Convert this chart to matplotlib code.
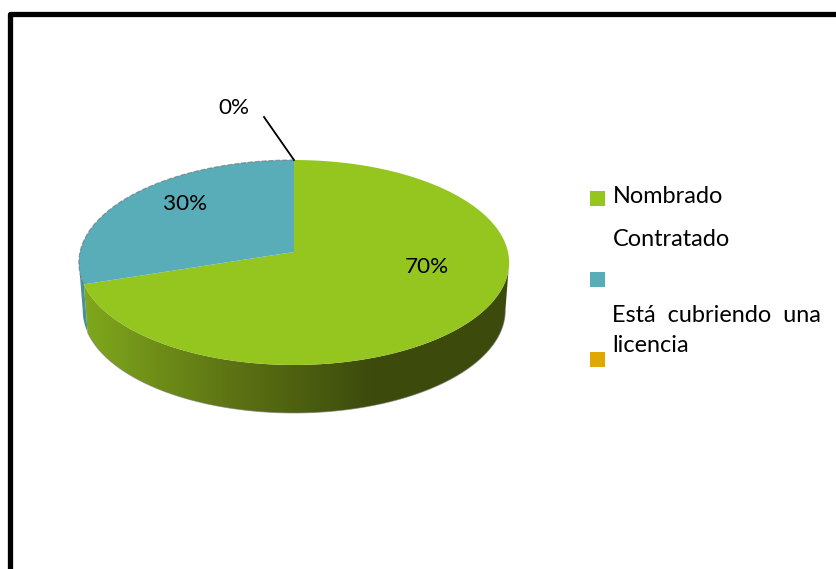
import numpy as np
import matplotlib
matplotlib.use("Agg")
import matplotlib.pyplot as plt
from matplotlib.colors import LinearSegmentedColormap
from matplotlib.path import Path
from matplotlib.patches import PathPatch, Rectangle

plt.rcParams['font.family'] = ['Lato', 'DejaVu Sans']

categories = ["Nombrado", "Contratado", "Está  cubriendo  una\nlicencia"]
values = [70, 30, 0]
labels = ["70%", "30%", "0%"]
colors = ["#95C620", "#58ADB9", "#DFA800"]
side_colors = ["#7FA81C", "#5E7414", "#3C4B0C"]

W, H = 836, 569
fig = plt.figure(figsize=(W / 100, H / 100), dpi=100)
ax = fig.add_axes([0, 0, 1, 1])
ax.set_xlim(0, W)
ax.set_ylim(H, 0)
ax.axis("off")

# perspective projection of the unit disc onto the page
CX, CY, S, P, C = 294.0, 252.0, 214.0, -75.6, 0.1024
DEPTH, BOTTOM_SCALE = 48.0, 0.982


def project(theta, r=1.0):
    u, v = r * np.cos(theta), r * np.sin(theta)
    d = 1 + C * v
    return CX + S * u / d, (CY + P * v) / d


def side_polygon(t0, t1):
    t = np.linspace(t0, t1, 200)
    x, y = project(t)
    xb = CX + (x - CX) * BOTTOM_SCALE
    yb = y + DEPTH
    return np.r_[x, xb[::-1]], np.r_[y, yb[::-1]]


# angles of every slice, clockwise from the top
fractions = np.array(values, dtype=float) / sum(values)
edges = np.pi / 2 - 2 * np.pi * np.r_[0, np.cumsum(fractions)]

# side wall: the visible lower rim
rim_left = -np.pi + np.arcsin(C)
x_g, y_g = side_polygon(edges[1], -np.arcsin(C))
cmap = LinearSegmentedColormap.from_list("side", side_colors)
grad = np.clip(np.linspace(0, 1, 512) / 0.68, 0, 1)[None, :]
im = ax.imshow(grad, cmap=cmap, extent=(84, 509, 420, 250), aspect="auto", zorder=1)
patch = PathPatch(Path(np.c_[x_g, y_g]), transform=ax.transData, fc="none", ec="none")
ax.add_patch(patch)
im.set_clip_path(patch)
ax.set_xlim(0, W)
ax.set_ylim(H, 0)

# teal sliver of the side wall at the far left
x_t, y_t = side_polygon(rim_left, edges[1])
ax.fill(x_t, y_t, color="#4A8F9A", lw=0, zorder=1)

# soft outline of the solid
t_out = np.linspace(edges[1], -np.arcsin(C), 300)
xo, yo = project(t_out)
ax.plot(CX + (xo - CX) * BOTTOM_SCALE, yo + DEPTH, color="#777777", lw=0.7, alpha=0.6, zorder=2)

# top faces
for i, val in enumerate(values):
    if val == 0:
        continue
    t = np.linspace(edges[i], edges[i + 1], 300)
    x, y = project(t)
    ax.fill(np.r_[CX, x], np.r_[CY, y], color=colors[i], lw=0, zorder=3)

# greyish dashed rim on the teal slice
t_rim = np.linspace(edges[1], edges[2], 200)
xr, yr = project(t_rim)
ax.plot(xr, yr, color="#6E6E6E", lw=0.9, ls=(0, (4, 1.5)), alpha=0.6, zorder=4)

# data labels
FS = 16.2
LEG_FS = 16.9
ax.text(427, 267, labels[0], ha="center", va="center", fontsize=FS, color="black", zorder=5)
ax.text(185, 204, labels[1], ha="center", va="center", fontsize=FS, color="black", zorder=5)
ax.text(234, 108, labels[2], ha="center", va="center", fontsize=FS, color="black", zorder=5)
ax.plot([264, 294], [117, 160], color="black", lw=1.3, zorder=5)

# legend as laid out in the source
swatch_y = [198, 279, 359]
text_y = [196, 239, 315]
for i, cat in enumerate(categories):
    ax.add_patch(Rectangle((590, swatch_y[i] - 7.5), 15, 15, fc=colors[i], ec="none", zorder=5))
    lines = cat.split("\n")
    for j, line in enumerate(lines):
        ax.text(612.5, text_y[i] + j * 30, line, ha="left", va="center",
                fontsize=LEG_FS, color="black", zorder=5)

# outer frame, cut off at the right and bottom of the picture
ax.plot([9.5, 9.5, W + 5], [H + 5, 13.5, 13.5], color="black", lw=3.8,
        solid_joinstyle="round", zorder=6)

fig.savefig("out.png", dpi=100)
